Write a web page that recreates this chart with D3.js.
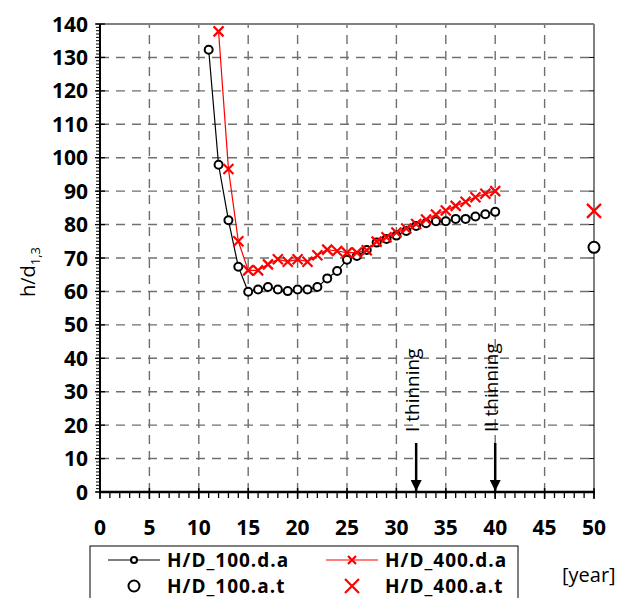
<!DOCTYPE html>
<html>
<head>
<meta charset="utf-8">
<script src="https://cdn.jsdelivr.net/npm/d3@7"></script>
<style>
  body { margin: 0; background: #fff; }
  svg text { font-family: "Open Sans", "Liberation Sans", sans-serif; }
</style>
</head>
<body>
<svg id="chart" width="633" height="598"></svg>
<script>
// Chart data.
const years100 = d3.range(11, 41);
const hd100 = [132.3, 97.9, 81.3, 67.4, 59.9, 60.6, 61.3, 60.6, 60.1, 60.6,
               60.6, 61.3, 63.9, 66.1, 69.5, 70.6, 72.4, 74.6, 75.7, 76.7,
               78.1, 79.6, 80.4, 81.0, 81.0, 81.7, 81.7, 82.4, 83.1, 83.8];
const years400 = d3.range(12, 41);
const hd400 = [137.8, 96.6, 75.0, 66.3, 66.3, 68.1, 69.6, 68.9, 69.6, 68.9,
               70.8, 72.5, 72.1, 71.6, 71.6, 72.3, 74.9, 76.2, 77.6, 78.8,
               80.2, 81.5, 83.0, 84.2, 85.6, 86.8, 88.2, 89.2, 90.0];
const atYear = [50];
const at100 = [73.2];
const at400 = [84.1];
const thinnings = [{ year: 32, label: "I thinning" }, { year: 40, label: "II thinning" }];
const xTicks = d3.range(0, 51, 5);
const yTicks = d3.range(0, 141, 10);
const legendItems = [
  { name: "H/D_100.d.a", color: "#000", shape: "circle", line: true },
  { name: "H/D_400.d.a", color: "#ff0000", shape: "cross", line: true },
  { name: "H/D_100.a.t", color: "#000", shape: "circle", line: false },
  { name: "H/D_400.a.t", color: "#ff0000", shape: "cross", line: false }
];

const svg = d3.select("#chart");
const pLeft = 100, pRight = 594, pTop = 24, pBottom = 492;

const x = d3.scaleLinear().domain([0, 50]).range([pLeft, pRight]);
const y = d3.scaleLinear().domain([0, 140]).range([pBottom, pTop]);

// Dashed grid.
const grid = svg.append("g").attr("stroke", "#6f6f6f").attr("stroke-width", 1.4)
  .attr("stroke-dasharray", "9,7");
grid.selectAll("line.v").data(xTicks.filter(d => d > 0 && d < 50)).enter().append("line")
  .attr("x1", d => x(d)).attr("x2", d => x(d)).attr("y1", pBottom).attr("y2", pTop);
grid.selectAll("line.h").data(yTicks.filter(d => d > 0 && d < 140)).enter().append("line")
  .attr("y1", d => y(d)).attr("y2", d => y(d)).attr("x1", pLeft).attr("x2", pRight);

// Frame on top and right.
svg.append("line").attr("x1", pLeft).attr("x2", pRight).attr("y1", pTop).attr("y2", pTop)
  .attr("stroke", "#808080").attr("stroke-width", 2);
svg.append("line").attr("x1", pRight).attr("x2", pRight).attr("y1", pTop).attr("y2", pBottom)
  .attr("stroke", "#808080").attr("stroke-width", 2);
svg.append("g").selectAll("line").data(yTicks.filter(d => d > 0 && d < 140)).enter().append("line")
  .attr("x1", pRight - 5).attr("x2", pRight).attr("y1", d => y(d)).attr("y2", d => y(d))
  .attr("stroke", "#000").attr("stroke-width", 1);

// Y axis with minor ticks.
const yAxis = svg.append("g");
yAxis.selectAll("line.minor").data(d3.range(0, 141, 1)).enter().append("line")
  .attr("x1", pLeft - 4).attr("x2", pLeft).attr("y1", d => y(d)).attr("y2", d => y(d))
  .attr("stroke", "#000").attr("stroke-width", 1);
yAxis.selectAll("line.major").data(yTicks).enter().append("line")
  .attr("x1", pLeft - 5).attr("x2", pLeft + 5).attr("y1", d => y(d)).attr("y2", d => y(d))
  .attr("stroke", "#000").attr("stroke-width", 1.3);
yAxis.append("line").attr("x1", pLeft).attr("x2", pLeft).attr("y1", pTop).attr("y2", pBottom + 1)
  .attr("stroke", "#000").attr("stroke-width", 2);
yAxis.selectAll("text").data(yTicks).enter().append("text")
  .attr("x", pLeft - 12).attr("y", d => y(d)).attr("dy", "0.36em")
  .attr("text-anchor", "end").attr("font-size", 21).attr("font-weight", "bold")
  .text(d => d);

// X axis with minor ticks.
const xAxis = svg.append("g");
xAxis.selectAll("line.minor").data(d3.range(0, 51, 1)).enter().append("line")
  .attr("x1", d => x(d)).attr("x2", d => x(d)).attr("y1", pBottom).attr("y2", pBottom + 6)
  .attr("stroke", "#000").attr("stroke-width", 1.3);
xAxis.selectAll("line.major").data(xTicks).enter().append("line")
  .attr("x1", d => x(d)).attr("x2", d => x(d)).attr("y1", pBottom - 4).attr("y2", pBottom + 7)
  .attr("stroke", "#000").attr("stroke-width", 1.5);
xAxis.append("line").attr("x1", pLeft - 1).attr("x2", pRight + 1).attr("y1", pBottom).attr("y2", pBottom)
  .attr("stroke", "#000").attr("stroke-width", 2.5);
xAxis.selectAll("text").data(xTicks).enter().append("text")
  .attr("x", d => x(d)).attr("y", 535)
  .attr("text-anchor", "middle").attr("font-size", 21).attr("font-weight", "bold")
  .text(d => d);

// Y axis title.
const yTitle = svg.append("text").attr("transform", "translate(35,272) rotate(-90)")
  .attr("text-anchor", "middle").attr("font-size", 20);
yTitle.append("tspan").text("h/d");
yTitle.append("tspan").attr("font-size", 13).attr("dy", 5).text("1,3");

// Marker helpers.
function drawMarker(g, shape, color, size) {
  if (shape === "circle") {
    g.append("circle").attr("r", size).attr("fill", "#fff")
      .attr("stroke", color).attr("stroke-width", 2);
  } else {
    g.append("path").attr("d", `M${-size},${-size}L${size},${size}M${-size},${size}L${size},${-size}`)
      .attr("stroke", color).attr("stroke-width", 2.2).attr("fill", "none");
  }
}

const line = d3.line().x(d => x(d[0])).y(d => y(d[1]));
const s100 = years100.map((d, i) => [d, hd100[i]]);
const s400 = years400.map((d, i) => [d, hd400[i]]);

svg.append("path").datum(s100).attr("d", line).attr("fill", "none")
  .attr("stroke", "#000").attr("stroke-width", 1.2);
svg.selectAll("g.m100").data(s100).enter().append("g")
  .attr("transform", d => `translate(${x(d[0])},${y(d[1])})`)
  .each(function () { drawMarker(d3.select(this), "circle", "#000", 4); });

svg.append("path").datum(s400).attr("d", line).attr("fill", "none")
  .attr("stroke", "#ff0000").attr("stroke-width", 1.2);
svg.selectAll("g.m400").data(s400).enter().append("g")
  .attr("transform", d => `translate(${x(d[0])},${y(d[1])})`)
  .each(function () { drawMarker(d3.select(this), "cross", "#ff0000", 5); });

// Isolated a.t points.
atYear.forEach((yr, i) => {
  drawMarker(svg.append("g").attr("transform", `translate(${x(yr)},${y(at100[i])})`), "circle", "#000", 5.5);
  drawMarker(svg.append("g").attr("transform", `translate(${x(yr)},${y(at400[i])})`), "cross", "#ff0000", 7);
});

// Thinning arrows.
svg.append("defs").append("marker").attr("id", "arrow")
  .attr("viewBox", "0 0 10 10").attr("refX", 10).attr("refY", 5)
  .attr("markerWidth", 4.5).attr("markerHeight", 4.5).attr("orient", "auto")
  .attr("markerUnits", "strokeWidth")
  .append("path").attr("d", "M0,0L10,5L0,10Z").attr("fill", "#000");
thinnings.forEach(t => {
  svg.append("line").attr("x1", x(t.year)).attr("x2", x(t.year))
    .attr("y1", 443).attr("y2", pBottom - 1)
    .attr("stroke", "#000").attr("stroke-width", 2.5).attr("marker-end", "url(#arrow)");
  svg.append("text").attr("transform", `translate(${x(t.year) + 3},432) rotate(-90)`)
    .attr("font-size", 19).text(t.label);
});

// Legend.
const lg = svg.append("g");
lg.append("rect").attr("x", 90).attr("y", 546).attr("width", 428).attr("height", 60)
  .attr("fill", "#fff").attr("stroke", "#000").attr("stroke-width", 1);
legendItems.forEach((d, i) => {
  const cx = i % 2 === 0 ? 134 : 352;
  const cy = i < 2 ? 560 : 586;
  const g = lg.append("g");
  if (d.line) {
    g.append("line").attr("x1", cx - 26).attr("x2", cx + 26).attr("y1", cy).attr("y2", cy)
      .attr("stroke", d.color).attr("stroke-width", 1.2);
    drawMarker(g.append("g").attr("transform", `translate(${cx},${cy})`), d.shape, d.color, d.shape === "circle" ? 3 : 4);
  } else {
    drawMarker(g.append("g").attr("transform", `translate(${cx},${cy})`), d.shape, d.color, d.shape === "circle" ? 5.5 : 7);
  }
  g.append("text").attr("x", cx + 33).attr("y", cy).attr("dy", "0.36em")
    .attr("font-size", 19).attr("font-weight", "bold").attr("letter-spacing", 1).text(d.name);
});
svg.append("text").attr("x", 562).attr("y", 575).attr("dy", "0.36em")
  .attr("font-size", 20).text("[year]");
</script>
</body>
</html>
